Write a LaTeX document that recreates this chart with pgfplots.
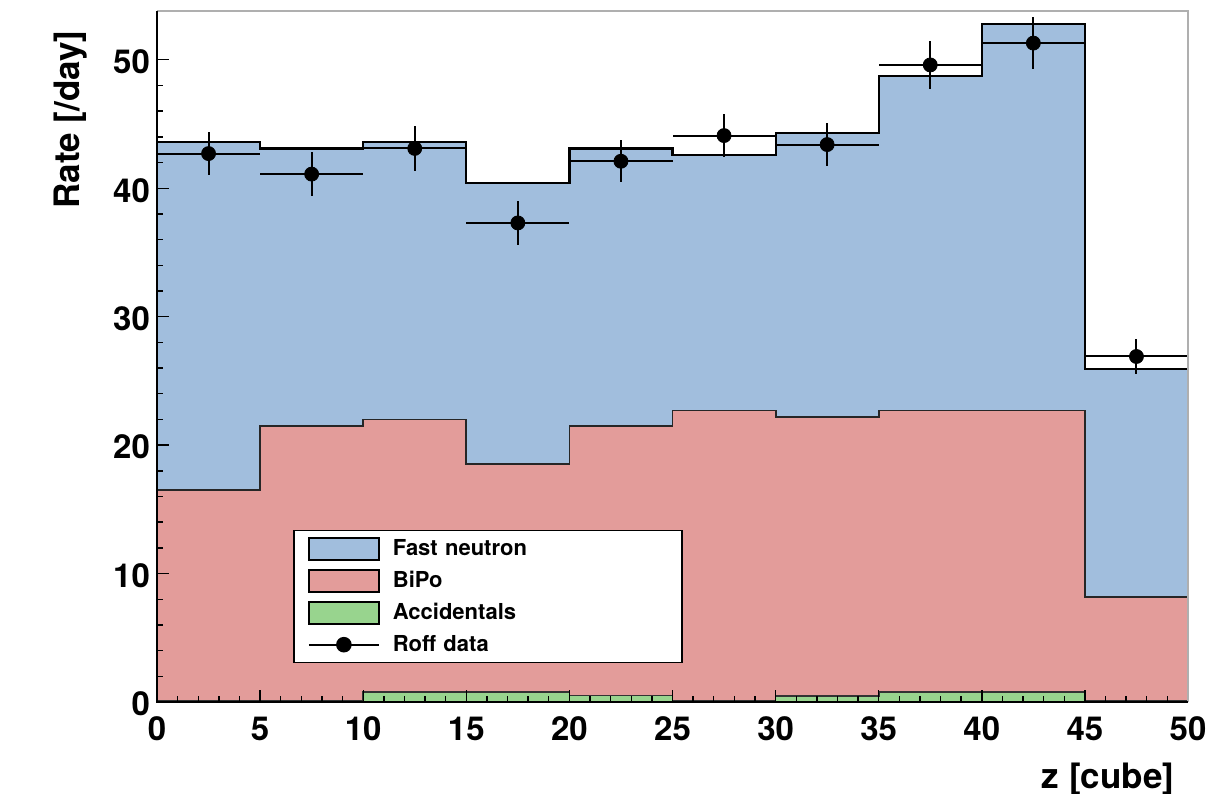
\documentclass[border=0pt]{standalone}
\usepackage{pgfplots}
\usepackage{pgfplotstable}
\pgfplotsset{compat=1.18}
\usepackage{fontspec}
\setmainfont{TeX Gyre Heros}

\definecolor{fastn}{RGB}{161,190,221}
\definecolor{bipo}{RGB}{227,156,154}
\definecolor{acc}{RGB}{152,212,142}
\definecolor{framegray}{RGB}{175,175,175}

% Stacked prediction per 5-cube bin (lower bin edge, cumulative tops)
\pgfplotstableread{
lo   fn     bipo   acc
0    43.6   16.5   0.12
5    43.1   21.5   0.12
10   43.6   22.0   0.80
15   40.4   18.5   0.80
20   43.1   21.5   0.50
25   42.6   22.7   0.12
30   44.3   22.2   0.45
35   48.75  22.7   0.80
40   52.8   22.7   0.80
45   25.9   8.2    0.12
50   25.9   8.2    0.12
}\stack

% Measured rates with errors
\pgfplotstableread{
z     rate   ez    erate
2.5   42.7   2.5   1.70
7.5   41.1   2.5   1.70
12.5  43.1   2.5   1.75
17.5  37.3   2.5   1.70
22.5  42.1   2.5   1.65
27.5  44.1   2.5   1.70
32.5  43.4   2.5   1.65
37.5  49.6   2.5   1.85
42.5  51.3   2.5   2.00
47.5  26.9   2.5   1.35
}\roff

\begin{document}
\begin{tikzpicture}
\path[use as bounding box] (-78.5pt,-45.5pt) rectangle (526pt,351pt);
\begin{axis}[
  scale only axis, width=515.5pt, height=345.5pt,
  xmin=0, xmax=50, ymin=0, ymax=53.8,
  xtick={0,5,...,50}, ytick={0,10,...,50},
  minor x tick num=4, minor y tick num=4,
  tick align=inside, xtick pos=bottom, ytick pos=left,
  major tick length=6pt, minor tick length=3.2pt,
  tick style={black, line width=0.7pt},
  axis on top,
  axis line style={draw=none},
  /pgf/number format/assume math mode=true,
  ticklabel style={font=\bfseries\fontsize{16.5}{18}\selectfont},
  xticklabel style={yshift=-4pt},
  yticklabel style={yshift=-1pt},
  xlabel={z [cube]},
  ylabel={Rate [/day]},
  xlabel style={at={(axis description cs:0.987,-0.087)}, anchor=north east,
    inner sep=0pt, font=\bfseries\fontsize{17.5}{20}\selectfont},
  ylabel style={at={(axis description cs:-0.0669,0.9725)}, anchor=south east,
    inner sep=0pt, font=\bfseries\fontsize{17.5}{20}\selectfont},
  legend cell align=left,
  legend style={at={(axis cs:6.6,13.4)}, anchor=north west,
    draw=black, line width=0.8pt, fill=white,
    inner xsep=7pt, inner ysep=1pt, row sep=0pt, column sep=0pt,
    font=\bfseries\fontsize{11}{13}\selectfont,
    nodes={text width=131pt, minimum height=16pt, inner xsep=6.5pt,
      inner ysep=0pt, align=left}},
]
% Fast neutron (top of the stack)
\addplot[const plot, fill=fastn, draw=none,
  legend image code/.code={\draw[black, fill=fastn, line width=1pt]
    (0pt,-5.5pt) rectangle (35pt,5.5pt);}]
  table[x=lo, y=fn] {\stack} \closedcycle;
\addlegendentry{Fast neutron}
\addplot[const plot, draw=black, line width=1.1pt, forget plot]
  table[x=lo, y=fn] {\stack};

% BiPo
\addplot[const plot, fill=bipo, draw=none,
  legend image code/.code={\draw[black, fill=bipo, line width=1pt]
    (0pt,-5.5pt) rectangle (35pt,5.5pt);}]
  table[x=lo, y=bipo] {\stack} \closedcycle;
\addlegendentry{BiPo}
\addplot[const plot, draw=black!85, line width=0.9pt, forget plot]
  table[x=lo, y=bipo] {\stack};

% Accidentals
\addplot[const plot, fill=acc, draw=none,
  legend image code/.code={\draw[black, fill=acc, line width=1pt]
    (0pt,-5.5pt) rectangle (35pt,5.5pt);}]
  table[x=lo, y=acc] {\stack} \closedcycle;
\addlegendentry{Accidentals}
\addplot[const plot, draw=black!80, line width=0.8pt, forget plot]
  table[x=lo, y=acc] {\stack};

% Data points
\addplot[only marks, mark=*, mark size=3.5pt, black,
  error bars/.cd, x dir=both, x explicit, y dir=both, y explicit,
  error mark=none, error bar style={line width=1pt, black},
  /pgfplots/legend image code/.code={\draw[black, line width=1pt]
    (0pt,0pt) -- (35pt,0pt); \fill[black] (17.5pt,0pt) circle (3.5pt);}]
  table[x=z, y=rate, x error=ez, y error=erate] {\roff};
\addlegendentry{Roff data}
\end{axis}
% plot frame: light top/right, black axes left/bottom
\draw[framegray, line width=0.8pt] (0pt,345.5pt) -- (515.5pt,345.5pt) -- (515.5pt,0pt);
\draw[black, line width=0.8pt] (0pt,345.5pt) -- (0pt,0pt) -- (515.5pt,0pt);
\end{tikzpicture}
\end{document}
